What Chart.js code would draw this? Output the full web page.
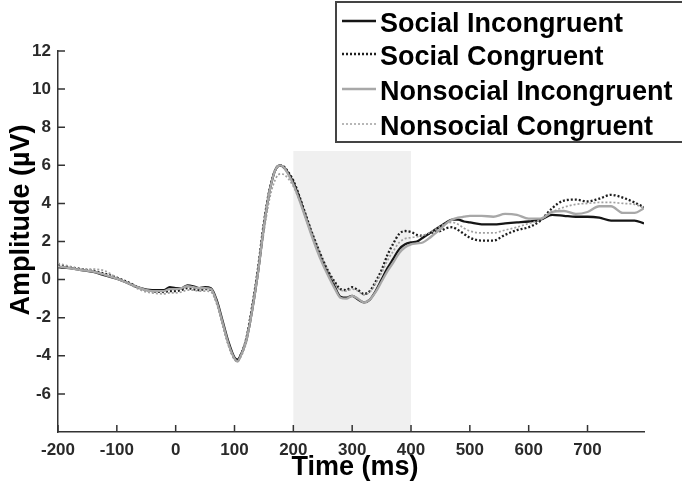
<!DOCTYPE html>
<html>
<head>
<meta charset="utf-8">
<script src="https://cdn.jsdelivr.net/npm/chart.js@4/dist/chart.umd.min.js"></script>
<style>
html,body{margin:0;padding:0;background:#fff;}
canvas{display:block;}
</style>
</head>
<body>
<canvas id="c" width="682" height="491"></canvas>
<script>
const times = [-200,-180,-160,-140,-120,-100,-80,-60,-40,-20,-10,0,10,20,30,40,50,60,70,80,90,100,105,110,120,130,140,150,160,170,178,185,190,200,210,220,230,240,250,260,270,280,290,300,310,320,330,340,350,360,370,380,390,400,410,420,430,440,450,460,470,480,490,500,520,540,560,580,600,620,640,660,680,700,720,740,760,780,796];

const socialIncongruent = [0.65,0.6,0.5,0.4,0.22,0.05,-0.2,-0.45,-0.55,-0.55,-0.4,-0.45,-0.45,-0.3,-0.35,-0.45,-0.4,-0.45,-1.1,-2.2,-3.3,-4.1,-4.2,-4.0,-3.2,-1.6,0.4,2.8,4.7,5.8,6.0,5.85,5.65,5.1,4.3,3.4,2.5,1.65,0.9,0.25,-0.35,-0.9,-0.95,-0.85,-1.05,-1.2,-1.05,-0.6,0.0,0.6,1.1,1.6,1.85,1.95,2.0,2.2,2.4,2.6,2.8,3.0,3.15,3.15,3.05,3.0,2.9,2.9,2.95,3.0,3.05,3.15,3.4,3.35,3.3,3.3,3.25,3.1,3.1,3.1,2.95];

const socialCongruent = [0.75,0.65,0.55,0.45,0.3,0.1,-0.15,-0.45,-0.6,-0.65,-0.6,-0.6,-0.55,-0.45,-0.5,-0.55,-0.5,-0.55,-1.2,-2.3,-3.4,-4.15,-4.25,-4.0,-3.1,-1.4,0.6,3.0,4.8,5.8,6.0,5.9,5.7,5.2,4.4,3.5,2.6,1.8,1.05,0.4,-0.1,-0.5,-0.55,-0.4,-0.55,-0.75,-0.6,-0.1,0.5,1.3,1.9,2.4,2.55,2.5,2.35,2.3,2.4,2.5,2.55,2.7,2.75,2.6,2.4,2.2,2.05,2.05,2.35,2.6,2.75,3.1,3.75,4.15,4.2,4.1,4.25,4.45,4.3,4.05,3.8];

const nonsocialIncongruent = [0.7,0.6,0.5,0.42,0.25,0.05,-0.2,-0.45,-0.6,-0.6,-0.5,-0.5,-0.45,-0.35,-0.4,-0.45,-0.45,-0.5,-1.2,-2.3,-3.4,-4.15,-4.3,-4.05,-3.2,-1.6,0.4,2.8,4.7,5.8,6.0,5.85,5.6,5.0,4.2,3.3,2.4,1.55,0.8,0.15,-0.45,-0.95,-1.0,-0.85,-1.0,-1.2,-1.05,-0.65,-0.1,0.45,0.9,1.4,1.7,1.85,1.9,1.95,2.15,2.4,2.65,2.95,3.15,3.25,3.3,3.35,3.35,3.3,3.45,3.4,3.2,3.2,3.55,3.6,3.45,3.55,3.85,3.85,3.5,3.5,3.75];

const nonsocialCongruent = [0.85,0.7,0.55,0.55,0.45,0.1,-0.2,-0.55,-0.7,-0.75,-0.7,-0.7,-0.65,-0.55,-0.55,-0.6,-0.6,-0.65,-1.3,-2.4,-3.5,-4.2,-4.3,-4.1,-3.3,-1.7,0.3,2.5,4.3,5.3,5.55,5.5,5.35,4.9,4.2,3.4,2.6,1.8,1.05,0.4,-0.15,-0.55,-0.6,-0.5,-0.6,-0.8,-0.65,-0.2,0.35,1.0,1.5,1.95,2.15,2.2,2.25,2.3,2.45,2.6,2.8,2.95,3.0,2.9,2.7,2.55,2.45,2.45,2.6,2.75,2.95,3.15,3.55,3.8,3.95,4.0,4.05,4.05,4.0,3.95,3.75];

const seriesNames = ['Social Incongruent','Social Congruent','Nonsocial Incongruent','Nonsocial Congruent'];
const xTickValues = [-200,-100,0,100,200,300,400,500,600,700];
const yTickValues = [-6,-4,-2,0,2,4,6,8,10,12];
const xLimits = [-200, 796];
const yLimits = [-8, 12];
const shadeWindow = [200, 400];
const shadeTop = 6.75;
const xTitle = 'Time (ms)';
const yTitle = 'Amplitude (\u00b5V)';

const seriesValues = [socialIncongruent, socialCongruent, nonsocialIncongruent, nonsocialCongruent];
const styles = [
  {color:'#151515', width:2.3, dash:[]},
  {color:'#1e1e1e', width:2.3, dash:[2,2]},
  {color:'#a8a8a8', width:2.3, dash:[]},
  {color:'#a0a0a0', width:1.7, dash:[2,2]}
];

const datasets = seriesValues.map((vals, i) => ({
  label: seriesNames[i],
  data: times.map((t, j) => ({x: t, y: vals[j]})),
  borderColor: styles[i].color,
  borderWidth: styles[i].width,
  borderDash: styles[i].dash,
  pointRadius: 0,
  fill: false,
  cubicInterpolationMode: 'monotone'
}));
const ordered = [datasets[3], datasets[2], datasets[1], datasets[0]];

const shadePlugin = {
  id: 'shade',
  beforeDraw(chart) {
    const {ctx, scales: {x, y}} = chart;
    const x0 = x.getPixelForValue(shadeWindow[0]);
    const x1 = x.getPixelForValue(shadeWindow[1]);
    const y0 = y.getPixelForValue(shadeTop);
    const y1 = y.getPixelForValue(yLimits[0]);
    ctx.save();
    ctx.fillStyle = '#f0f0f0';
    ctx.fillRect(x0, y0, x1 - x0, y1 - y0);
    ctx.restore();
  }
};

const ticksPlugin = {
  id: 'innerTicks',
  beforeDatasetsDraw(chart) {
    const {ctx, scales: {x, y}} = chart;
    ctx.save();
    ctx.strokeStyle = '#333';
    ctx.lineWidth = 1.5;
    const yb = y.getPixelForValue(yLimits[0]);
    const xl = x.getPixelForValue(xLimits[0]);
    ctx.beginPath();
    x.ticks.forEach(t => {
      const px = x.getPixelForValue(t.value);
      ctx.moveTo(px, yb);
      ctx.lineTo(px, yb - 7);
    });
    y.ticks.forEach(t => {
      const py = y.getPixelForValue(t.value);
      ctx.moveTo(xl, py);
      ctx.lineTo(xl + 7, py);
    });
    ctx.stroke();
    ctx.restore();
  }
};

const annotPlugin = {
  id: 'annot',
  afterDraw(chart) {
    const {ctx, scales: {x, y}} = chart;
    ctx.save();
    ctx.fillStyle = '#000';
    ctx.font = 'bold 27px "Liberation Sans", Arial, sans-serif';
    ctx.textAlign = 'center';
    ctx.textBaseline = 'middle';
    ctx.fillText(xTitle, (x.left + x.right) / 2 + 4, 468);
    ctx.translate(22, 220);
    ctx.rotate(-Math.PI / 2);
    ctx.fillText(yTitle, 0, 0);
    ctx.restore();

    ctx.save();
    ctx.fillStyle = '#fff';
    ctx.fillRect(336, 1, 360, 141);
    ctx.strokeStyle = '#444';
    ctx.lineWidth = 2;
    ctx.strokeRect(336, 2, 360, 140);
    const rows = [32, 65, 100, 135];
    ctx.font = 'bold 27px "Liberation Sans", Arial, sans-serif';
    ctx.textAlign = 'left';
    ctx.textBaseline = 'alphabetic';
    chart.data.datasets.slice().sort((a, b) => seriesNames.indexOf(a.label) - seriesNames.indexOf(b.label)).forEach((ds, i) => {
      const ly = rows[i] - 11;
      ctx.save();
      ctx.strokeStyle = ds.borderColor;
      ctx.lineWidth = ds.borderWidth;
      ctx.setLineDash(ds.borderDash || []);
      ctx.beginPath();
      ctx.moveTo(342, ly);
      ctx.lineTo(376, ly);
      ctx.stroke();
      ctx.restore();
      ctx.fillStyle = '#000';
      ctx.fillText(ds.label, 380, rows[i]);
    });
    ctx.restore();
  }
};

const tickFont = {family: '"Liberation Sans", Arial, sans-serif', size: 17, weight: 'bold'};

new Chart(document.getElementById('c'), {
  type: 'line',
  data: {datasets: ordered},
  options: {
    responsive: false,
    animation: false,
    layout: {padding: {left: 0, right: 38, top: 51, bottom: 0}},
    plugins: {legend: {display: false}, tooltip: {enabled: false}},
    scales: {
      x: {
        type: 'linear',
        min: xLimits[0], max: xLimits[1],
        grid: {display: false, drawTicks: false},
        border: {display: true, color: '#333', width: 1.5},
        ticks: {font: tickFont, color: '#2a2a2a', padding: 8, maxRotation: 0, autoSkip: false},
        afterBuildTicks: s => { s.ticks = xTickValues.map(v => ({value: v})); },
        afterFit: s => { s.height = 59; }
      },
      y: {
        type: 'linear',
        min: yLimits[0], max: yLimits[1],
        grid: {display: false, drawTicks: false},
        border: {display: true, color: '#333', width: 1.5},
        ticks: {font: tickFont, color: '#2a2a2a', padding: 7, autoSkip: false},
        afterBuildTicks: s => { s.ticks = yTickValues.map(v => ({value: v})); },
        afterFit: s => { s.width = 58; }
      }
    }
  },
  plugins: [shadePlugin, ticksPlugin, annotPlugin]
});
</script>
</body>
</html>
